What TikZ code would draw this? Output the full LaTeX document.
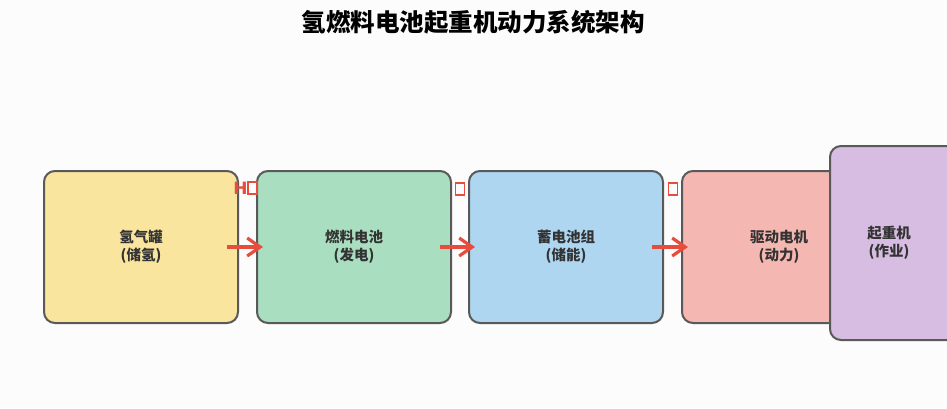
\documentclass[tikz,border=0pt]{standalone}
\usepackage{fontspec}
\setmainfont{Noto Sans CJK SC}
\newfontfamily\dejavu{DejaVu Sans}
\usetikzlibrary{arrows.meta}
\definecolor{edgegray}{HTML}{595959}
\definecolor{txtgray}{HTML}{333333}
\definecolor{arrred}{HTML}{E74C3C}
\definecolor{cyellow}{HTML}{F9E59D}
\definecolor{cgreen}{HTML}{A9DEC0}
\definecolor{cblue}{HTML}{AED6F1}
\definecolor{cpink}{HTML}{F5B7B1}
\definecolor{cpurple}{HTML}{D7BDE2}
\begin{document}
\begin{tikzpicture}[x=1pt,y=-1pt,
  blk/.style={draw=edgegray,line width=2pt,rounded corners=11pt,minimum width=194pt,minimum height=152pt,inner sep=0pt,font=\bfseries\fontsize{14.5}{18}\selectfont,text=txtgray,align=center},
  btxt/.style={inner sep=0pt,font=\bfseries\fontsize{14.5}{18}\selectfont,text=txtgray,align=center},
  flow/.style={draw=arrred,line width=3.2pt,-{Straight Barb[length=13pt,width=18pt,line width=3.2pt]}},
  lbl/.style={text=arrred,font=\dejavu\bfseries\fontsize{17}{19}\selectfont,inner sep=0pt},
  tofu/.style={draw=arrred,line width=1.3pt,minimum width=9pt,minimum height=12pt,inner sep=0pt}]
\useasboundingbox (0,0) rectangle (947,408);
\fill[white!99!black] (0,0) rectangle (947,408);
\node[font=\bfseries\fontsize{24.5}{28}\selectfont,text=black] (title) at (473,22) {氢燃料电池起重机动力系统架构};
\begin{scope}
\clip (0,0) rectangle (947,408);
\node[blk,fill=cyellow] (b1) at (141,247) {氢气罐\\(储氢)};
\node[blk,fill=cgreen] (b2) at (354,247) {燃料电池\\(发电)};
\node[blk,fill=cblue] (b3) at (566,247) {蓄电池组\\(储能)};
\node[blk,fill=cpink] (b4) at (779,247) {驱动电机\\(动力)};
\node[blk,fill=cpurple,minimum height=194pt] (b5) at (927,243) {};
\end{scope}
\node[btxt] (b5t) at (889,243) {起重机\\(作业)};
\draw[flow] ([xshift=-12pt]b1.east) -- ([xshift=7pt]b2.west);
\draw[flow] ([xshift=-12pt]b2.east) -- ([xshift=7pt]b3.west);
\draw[flow] ([xshift=-12pt]b3.east) -- ([xshift=7pt]b4.west);
\node[lbl,anchor=base] (h) at (240.5,194.5) {H};
\node[tofu] (t1) at (252.5,188) {};
\node[tofu] (t2) at (460,189) {};
\node[tofu] (t3) at (673,189) {};
\end{tikzpicture}
\end{document}
